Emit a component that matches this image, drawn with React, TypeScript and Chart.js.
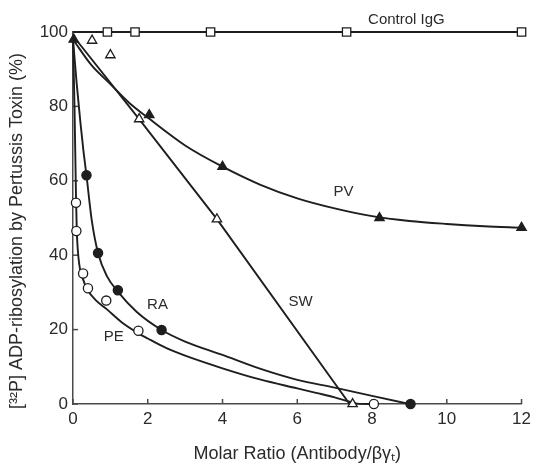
import React, { useEffect, useRef } from 'react';
import { Chart, registerables } from 'chart.js';

Chart.register(...registerables);

// ---- Data ----
// Measured points
const controlX = [0.92, 1.66, 3.68, 7.32, 12];
const controlY = [100, 100, 100, 100, 100];

const pvX = [0.02, 2.04, 4.0, 8.2, 12];
const pvY = [98, 77.7, 63.8, 50, 47.4];

const swX = [0.51, 1.0, 1.77, 3.85, 7.48];
const swY = [97.7, 93.8, 76.6, 49.7, 0];

const raX = [0.36, 0.67, 1.2, 2.37, 9.03];
const raY = [61.5, 40.6, 30.6, 19.9, 0];

const peX = [0.08, 0.09, 0.27, 0.4, 0.89, 1.75, 8.05];
const peY = [54.1, 46.5, 35.1, 31.1, 27.8, 19.7, 0];

// Fitted curves
const controlFitX = [0, 12];
const controlFitY = [100, 100];

const pvFitX = [0, 0.5, 1, 1.5, 2, 3, 4, 5, 6, 7, 8, 9, 10, 11, 12];
const pvFitY = [98, 91, 86, 81, 77, 69.5, 63.8, 59, 55.3, 52.6, 50.5, 49.2, 48.4, 47.8, 47.4];

const swFitX = [0, 1.77, 3.85, 7.4];
const swFitY = [99, 76.6, 49.7, 0];

const raFitX = [0, 0.05, 0.1, 0.2, 0.28, 0.36, 0.5, 0.67, 0.9, 1.2, 1.7, 2.37, 3, 4, 5, 6, 7, 8, 9];
const raFitY = [98, 92, 86, 75.5, 68, 61.5, 49.5, 40.6, 34.5, 30.2, 24.8, 19.9, 16.8, 13.2, 9.5, 6.5, 4.4, 2.2, 0];

const peFitX = [0, 0.04, 0.08, 0.1, 0.15, 0.27, 0.4, 0.6, 0.9, 1.3, 1.75, 2, 2.5, 3, 4, 5, 6, 6.5, 7, 7.4, 7.6, 8.05];
const peFitY = [98, 80, 56, 47, 39, 33.5, 30.5, 28, 25.5, 22, 19, 17.6, 15, 13, 9.6, 6.6, 4.2, 3.0, 1.8, 0.6, 0.1, 0];

// Series labels (placed in data units)
const seriesLabels = ['Control IgG', 'PV', 'SW', 'RA', 'PE'];
const labelX = [8.92, 7.24, 6.09, 2.26, 1.09];
const labelY = [103.2, 57.0, 27.5, 26.6, 18.1];

// Axis settings
const xMin = 0, xMax = 12, xStep = 2;
const yMin = 0, yMax = 100, yStep = 20;
const xTitle = 'Molar Ratio (Antibody/βγₜ)';
const yTitle = '[³²P] ADP-ribosylation by Pertussis Toxin (%)';

const INK = '#1e1e1e';
const AXIS = '#4a4a4a';
const TEXT = '#2b2b2b';
const FONT = '"Liberation Sans", Arial, Helvetica, sans-serif';

const zip = (xs: number[], ys: number[]) => xs.map((x, i) => ({ x, y: ys[i] }));

const fitLine = (label: string, xs: number[], ys: number[], curved: boolean) => ({
  label,
  data: zip(xs, ys),
  showLine: true,
  borderColor: INK,
  borderWidth: 1.9,
  pointRadius: 0,
  pointHoverRadius: 0,
  cubicInterpolationMode: curved ? 'monotone' : 'default',
  tension: 0,
  fill: false,
  clip: false as any,
  order: 2,
});

const markers = (label: string, xs: number[], ys: number[], style: string, filled: boolean, radius: number) => ({
  label,
  data: zip(xs, ys),
  showLine: false,
  pointStyle: style,
  pointRadius: radius,
  pointHoverRadius: radius,
  pointBorderColor: INK,
  pointBorderWidth: 1.3,
  pointBackgroundColor: filled ? INK : '#ffffff',
  borderColor: INK,
  backgroundColor: filled ? INK : '#ffffff',
  clip: false as any,
  order: 1,
});

const decorPlugin = {
  id: 'decor',
  beforeDatasetsDraw(chart: any) {
    const { ctx, chartArea, scales } = chart;
    const x = scales.x, y = scales.y;
    ctx.save();
    ctx.strokeStyle = AXIS;
    ctx.lineWidth = 1.5;
    x.ticks.forEach((t: any) => {
      const px = x.getPixelForValue(t.value);
      ctx.beginPath();
      ctx.moveTo(px, chartArea.bottom);
      ctx.lineTo(px, chartArea.bottom - 5);
      ctx.stroke();
    });
    y.ticks.forEach((t: any) => {
      const py = y.getPixelForValue(t.value);
      ctx.beginPath();
      ctx.moveTo(chartArea.left, py);
      ctx.lineTo(chartArea.left + 5, py);
      ctx.stroke();
    });
    // y-axis title, placed like the reference (slightly below the axis centre)
    ctx.fillStyle = TEXT;
    ctx.font = `18px ${FONT}`;
    ctx.textAlign = 'center';
    ctx.textBaseline = 'middle';
    ctx.translate(17, (chartArea.top + chartArea.bottom) / 2 + 13);
    ctx.rotate(-Math.PI / 2);
    ctx.fillText(yTitle, 0, 0);
    ctx.restore();
  },
  afterDatasetsDraw(chart: any) {
    const { ctx, scales } = chart;
    ctx.save();
    ctx.fillStyle = TEXT;
    ctx.font = `15px ${FONT}`;
    ctx.textAlign = 'center';
    ctx.textBaseline = 'middle';
    seriesLabels.forEach((s, i) => {
      ctx.fillText(s, scales.x.getPixelForValue(labelX[i]), scales.y.getPixelForValue(labelY[i]));
    });
    ctx.restore();
  },
};

export default function App() {
  const ref = useRef<HTMLCanvasElement | null>(null);

  useEffect(() => {
    if (!ref.current) return;
    const chart = new Chart(ref.current, {
      type: 'scatter',
      data: {
        datasets: [
          markers('Control IgG', controlX, controlY, 'rect', false, 5.9),
          markers('PV', pvX, pvY, 'triangle', true, 5.4),
          markers('SW', swX, swY, 'triangle', false, 5.4),
          markers('RA', raX, raY, 'circle', true, 4.6),
          markers('PE', peX, peY, 'circle', false, 4.6),
          fitLine('Control IgG fit', controlFitX, controlFitY, false),
          fitLine('PV fit', pvFitX, pvFitY, true),
          fitLine('SW fit', swFitX, swFitY, false),
          fitLine('RA fit', raFitX, raFitY, true),
          fitLine('PE fit', peFitX, peFitY, true),
        ] as any,
      },
      options: {
        animation: false,
        responsive: false,
        events: [],
        layout: { padding: { top: 32, right: 11, left: 0, bottom: 0 } },
        plugins: {
          legend: { display: false },
          tooltip: { enabled: false },
        },
        scales: {
          x: {
            type: 'linear',
            min: xMin,
            max: xMax,
            ticks: {
              stepSize: xStep,
              padding: 5,
              color: TEXT,
              font: { family: FONT, size: 17 },
              maxRotation: 0,
            },
            grid: { display: false, drawTicks: false },
            border: { display: true, color: AXIS, width: 1.5 },
            title: {
              display: true,
              text: xTitle,
              color: TEXT,
              font: { family: FONT, size: 18 },
              padding: { top: 0, bottom: 3 },
            },
            afterFit: (scale: any) => { scale.height = 64; },
          },
          y: {
            type: 'linear',
            min: yMin,
            max: yMax,
            ticks: {
              stepSize: yStep,
              padding: 5,
              color: TEXT,
              font: { family: FONT, size: 17 },
            },
            grid: { display: false, drawTicks: false },
            border: { display: true, color: AXIS, width: 1.5 },
            title: { display: false, text: yTitle },
            afterFit: (scale: any) => { scale.width = 73; },
          },
        },
      },
      plugins: [decorPlugin],
    } as any);
    return () => chart.destroy();
  }, []);

  return (
    <div style={{ position: 'fixed', left: 0, top: 0, width: 536, height: 468, background: '#fff' }}>
      <canvas ref={ref} width={536} height={468} />
    </div>
  );
}
